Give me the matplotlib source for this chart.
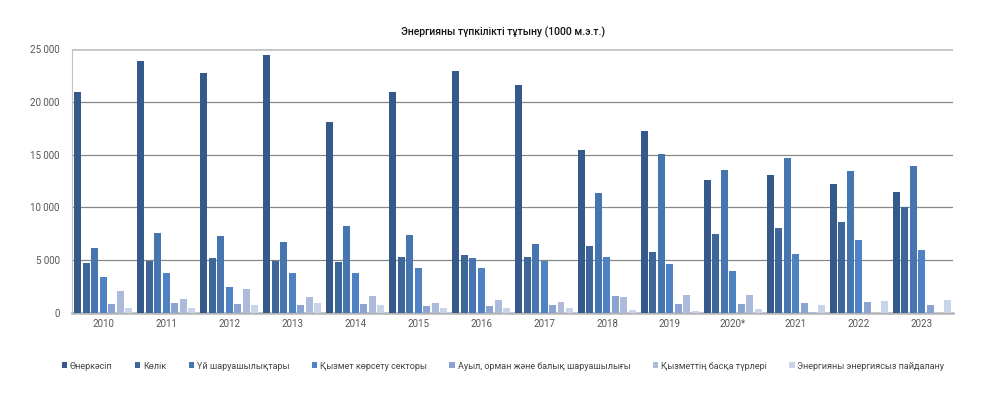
import numpy as np
import matplotlib.pyplot as plt
from matplotlib.ticker import FuncFormatter

plt.rcParams['font.family'] = ['Roboto', 'DejaVu Sans']

years = ['2010', '2011', '2012', '2013', '2014', '2015', '2016',
         '2017', '2018', '2019', '2020*', '2021', '2022', '2023']

series_names = ['Өнеркәсіп', 'Көлік', 'Үй шаруашылықтары', 'Қызмет көрсету секторы',
                'Ауыл, орман және балық шаруашылығы', 'Қызметтің басқа түрлері',
                'Энергияны энергиясыз пайдалану']

industry = [20900, 23850, 22750, 24400, 18050, 20900, 22900, 21550, 15450, 17200, 12550, 13100, 12250, 11450]
transport = [4750, 4950, 5200, 4950, 4850, 5300, 5500, 5300, 6300, 5750, 7450, 8050, 8600, 10050]
households = [6200, 7550, 7300, 6700, 8200, 7400, 5200, 6550, 11350, 15100, 13500, 14700, 13400, 13900]
services = [3400, 3750, 2450, 3750, 3750, 4300, 4300, 4950, 5300, 4650, 3950, 5550, 6950, 5950]
agriculture = [850, 900, 850, 750, 850, 700, 700, 750, 1650, 850, 850, 950, 1050, 800]
other = [2100, 1300, 2250, 1500, 1600, 950, 1200, 1050, 1500, 1700, 1700, 50, 0, 0]
non_energy = [450, 500, 800, 900, 800, 500, 450, 450, 300, 200, 350, 800, 1100, 1250]

colors = ['#34598a', '#3d6699', '#4675b0', '#4e82c2', '#8ba3d0', '#adbbdb', '#c9d4eb']

data = [industry, transport, households, services, agriculture, other, non_energy]

fig = plt.figure(figsize=(9.96, 3.97), dpi=100)
ax = fig.add_axes([0.0723, 0.2116, 0.8846, 0.665])

x = np.arange(len(years))
step = 0.135
width = 0.111
for j, vals in enumerate(data):
    ax.bar(x + (j - 3) * step, vals, width=width, color=colors[j], label=series_names[j], zorder=3)

ax.set_xlim(-0.5, len(years) - 0.5)
ax.set_ylim(0, 25000)
ax.set_yticks([0, 5000, 10000, 15000, 20000, 25000])
ax.yaxis.set_major_formatter(FuncFormatter(lambda v, p: f'{int(v):,}'.replace(',', ' ')))
ax.set_xticks(x)
ax.set_xticklabels(years)
ax.tick_params(axis='both', length=0, labelsize=7, colors='#555555')
ax.tick_params(axis='y', pad=9)
ax.tick_params(axis='x', pad=4)

for v in [5000, 10000, 15000, 20000]:
    ax.axhline(v, color='#888888', lw=0.9, zorder=1)
ax.axhline(25000, color='#c4c4c4', lw=2, zorder=1)

for s in ['top', 'right']:
    ax.spines[s].set_visible(False)
ax.spines['left'].set_color('#c4c4c4')
ax.spines['bottom'].set_color('#b4b4b4')
ax.spines['bottom'].set_linewidth(1.8)

fig.text(0.505, 0.919, 'Энергияны түпкілікті тұтыну (1000 м.э.т.)', ha='center', va='center',
         fontsize=7.5, color='#111111', fontweight='medium')

leg = fig.legend(loc='center', bbox_to_anchor=(0.505, 0.078), ncol=7, frameon=False,
                 fontsize=6.5, handlelength=0.6, handleheight=0.6, handletextpad=0.3,
                 columnspacing=2.5)
for t in leg.get_texts():
    t.set_color('#444444')

fig.savefig('out.png', dpi=100)
